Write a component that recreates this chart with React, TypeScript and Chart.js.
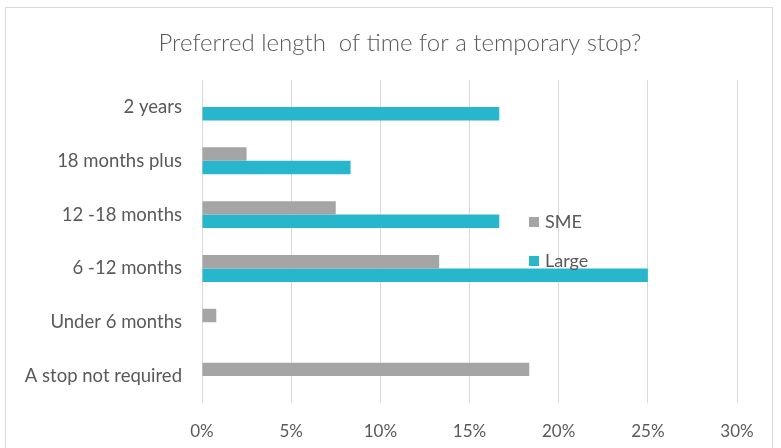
import React, { useEffect, useRef } from "react";
import { Chart, registerables } from "chart.js";

Chart.register(...registerables);

const categories = ["2 years", "18 months plus", "12 -18 months", "6 -12 months", "Under 6 months", "A stop not required"];
const smeValues = [0, 2.5, 7.5, 13.3, 0.8, 18.35];
const largeValues = [16.67, 8.33, 16.67, 25, 0, 0];
const xTicks = [0, 5, 10, 15, 20, 25, 30];
const seriesNames = ["SME", "Large"];
const seriesColors = ["#a5a5a5", "#27b6cc"];
const titleText = "Preferred length  of time for a temporary stop?";

const TEXT = "#595959";
const FONT = "Lato, 'Open Sans', sans-serif";

const overlayPlugin = {
  id: "overlay",
  afterDraw(chart: any) {
    const ctx = chart.ctx;
    ctx.save();
    ctx.fillStyle = TEXT;
    ctx.font = `300 24px ${FONT}`;
    ctx.textAlign = "center";
    ctx.textBaseline = "middle";
    ctx.fillText(titleText, 400, 43);
    // legend
    const lx = 529;
    const ys = [222, 261];
    ctx.font = `18px ${FONT}`;
    ctx.textAlign = "left";
    seriesNames.forEach((n, i) => {
      ctx.fillStyle = seriesColors[i];
      ctx.fillRect(lx, ys[i] - 5, 10, 10);
      ctx.fillStyle = TEXT;
      ctx.fillText(n, lx + 16, ys[i]);
    });
    ctx.restore();
  },
};

export default function App() {
  const ref = useRef<HTMLCanvasElement>(null);
  useEffect(() => {
    const chart = new Chart(ref.current!, {
      type: "bar",
      data: {
        labels: categories,
        datasets: [
          { label: seriesNames[0], data: smeValues, backgroundColor: seriesColors[0], categoryPercentage: 0.5, barPercentage: 1.0 },
          { label: seriesNames[1], data: largeValues, backgroundColor: seriesColors[1], categoryPercentage: 0.5, barPercentage: 1.0 },
        ],
      },
      options: {
        indexAxis: "y",
        animation: false,
        responsive: false,
        maintainAspectRatio: false,
        layout: { padding: { top: 80, right: 44, left: 0, bottom: 0 } },
        plugins: { legend: { display: false }, title: { display: false }, tooltip: { enabled: false } },
        scales: {
          x: {
            min: 0,
            max: 30,
            afterBuildTicks: (s: any) => { s.ticks = xTicks.map((v) => ({ value: v })); },
            afterFit: (s: any) => { s.height = 45; },
            grid: { color: "#d9d9d9", drawTicks: false },
            border: { display: false },
            ticks: { color: TEXT, font: { family: FONT, size: 17 }, padding: 18, callback: (v: any) => v + "%" },
          },
          y: {
            afterFit: (s: any) => { s.width = 202; },
            grid: { display: false, drawTicks: false },
            border: { display: false },
            ticks: { color: TEXT, font: { family: FONT, size: 18.5 }, padding: 20 },
          },
        },
      },
      plugins: [overlayPlugin],
    } as any);
    return () => chart.destroy();
  }, []);
  return (
    <div style={{ position: "fixed", left: 0, top: 0, width: 781, height: 448, background: "#fff", overflow: "hidden" }}>
      <div style={{ position: "absolute", left: 5, top: 7, width: 768, height: 460, border: "1px solid #d9d9d9", boxSizing: "border-box" }} />
      <canvas ref={ref} width={781} height={448} style={{ position: "absolute", left: 0, top: 0, width: 781, height: 448 }} />
    </div>
  );
}
